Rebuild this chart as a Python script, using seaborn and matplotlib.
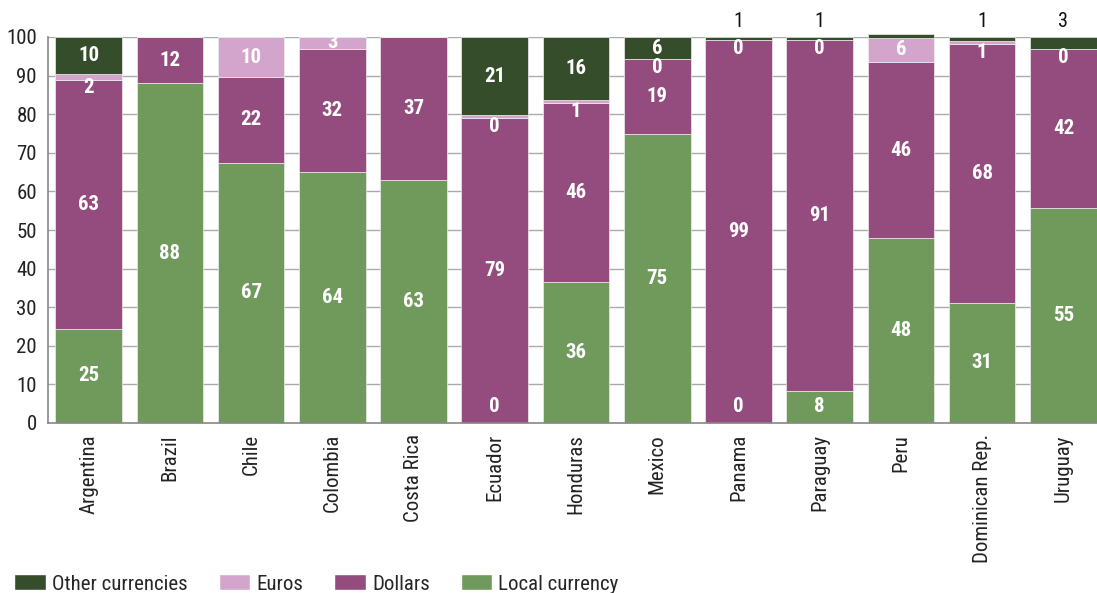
import numpy as np
import pandas as pd
import seaborn as sns
import matplotlib.pyplot as plt
from matplotlib.patches import Patch

# Data (share of total, %)
countries = ['Argentina', 'Brazil', 'Chile', 'Colombia', 'Costa Rica', 'Ecuador', 'Honduras',
             'Mexico', 'Panama', 'Paraguay', 'Peru', 'Dominican Rep.', 'Uruguay']
local = [24.4, 88.0, 67.4, 65.0, 63.0, 0.0, 36.5, 74.9, 0.0, 8.3, 47.9, 31.1, 55.7]
dollars = [64.5, 12.0, 22.2, 31.9, 37.0, 79.0, 46.4, 19.4, 99.2, 90.9, 45.6, 67.1, 41.2]
euros = [1.6, 0.0, 10.4, 3.1, 0.0, 0.7, 0.8, 0.0, 0.0, 0.0, 6.3, 0.8, 0.0]
others = [9.5, 0.0, 0.0, 0.0, 0.0, 20.3, 16.3, 5.7, 0.8, 0.8, 0.9, 1.0, 3.1]

# Printed labels (rounded figures as shown in the chart, None = no label)
local_lbl = [25, 88, 67, 64, 63, 0, 36, 75, 0, 8, 48, 31, 55]
dollars_lbl = [63, 12, 22, 32, 37, 79, 46, 19, 99, 91, 46, 68, 42]
euros_lbl = [2, None, 10, 3, None, 0, 1, 0, 0, 0, 6, 1, 0]
others_lbl = [10, None, None, None, None, 21, 16, 6, 1, 1, None, 1, 3]

series = ['Local currency', 'Dollars', 'Euros', 'Other currencies']
colors = {'Local currency': '#6f9a5c', 'Dollars': '#944b7e',
          'Euros': '#d4a5cc', 'Other currencies': '#364d2b'}

df = pd.DataFrame({'country': countries, 'Local currency': local, 'Dollars': dollars,
                   'Euros': euros, 'Other currencies': others})
labels = {'Local currency': local_lbl, 'Dollars': dollars_lbl,
          'Euros': euros_lbl, 'Other currencies': others_lbl}

sns.set_style('white')
plt.rcParams['font.family'] = ['Roboto Condensed', 'Liberation Sans Narrow', 'Roboto', 'DejaVu Sans']

fig = plt.figure(figsize=(10.97, 5.93), dpi=100)
ax = fig.add_axes([48 / 1097, 170 / 593, 1056 / 1097, 386 / 593])

bottom = np.zeros(len(countries))
for s in series:
    vals = df[s].values
    sns.barplot(x=df['country'], y=vals, bottom=bottom, color=colors[s], width=0.82,
                order=countries, ax=ax, linewidth=0.5, edgecolor='#eeeeee', saturation=1)
    for i, lbl in enumerate(labels[s]):
        if lbl is None:
            continue
        h = vals[i]
        mid = bottom[i] + h / 2
        if s == 'Other currencies' and h < 4:
            # tiny top segments are labelled above the bar
            ax.annotate(str(lbl), (i, bottom[i] + h), xytext=(0, 4), textcoords='offset points',
                        ha='center', va='bottom', fontsize=14.5, color='#111111')
        elif h == 0 and bottom[i] == 0:
            ax.annotate(str(lbl), (i, 0), xytext=(0, 5), textcoords='offset points',
                        ha='center', va='bottom', fontsize=15, color='white', fontweight='bold')
        elif h < 3:
            # tiny euro segments: label hangs just under the segment
            ax.annotate(str(lbl), (i, bottom[i]), xytext=(0, 1), textcoords='offset points',
                        ha='center', va='top', fontsize=15, color='white', fontweight='bold')
        else:
            ax.text(i, mid, str(lbl), ha='center', va='center', fontsize=15,
                    color='white', fontweight='bold')
    bottom = bottom + vals

for p in ax.patches:
    p.set_clip_on(False)

ax.set_ylim(0, 100)
ax.set_xlim(-0.5, len(countries) - 0.5)
ax.set_yticks(range(0, 101, 10))
ax.set_xticks(np.arange(-0.5, len(countries), 1), minor=True)
ax.set_xticks(range(len(countries)))
ax.set_xticklabels(countries, rotation=90, fontsize=15, color='#222222')
ax.tick_params(axis='y', labelsize=15, colors='#222222', length=6, color='#888888', width=1.2, pad=2)
ax.tick_params(axis='x', which='major', length=0, pad=8)
ax.tick_params(axis='x', which='minor', length=7, color='#888888', width=1.2)
ax.set_xlabel('')
ax.set_ylabel('')
ax.grid(axis='y', color='#aaaaaa', linewidth=1)
ax.set_axisbelow(True)
for side in ['top', 'right']:
    ax.spines[side].set_visible(False)
for side in ['left', 'bottom']:
    ax.spines[side].set_color('#888888')
    ax.spines[side].set_linewidth(1.2)

handles = [Patch(facecolor=colors[s], label=s) for s in series[::-1]]
fig.legend(handles=handles, loc='lower left', bbox_to_anchor=(-0.002, -0.029), ncol=4, frameon=False,
           fontsize=15, handlelength=1.5, handleheight=0.8, columnspacing=1.5, handletextpad=0.3,
           borderpad=0.3)

fig.savefig('out.png', dpi=100)
